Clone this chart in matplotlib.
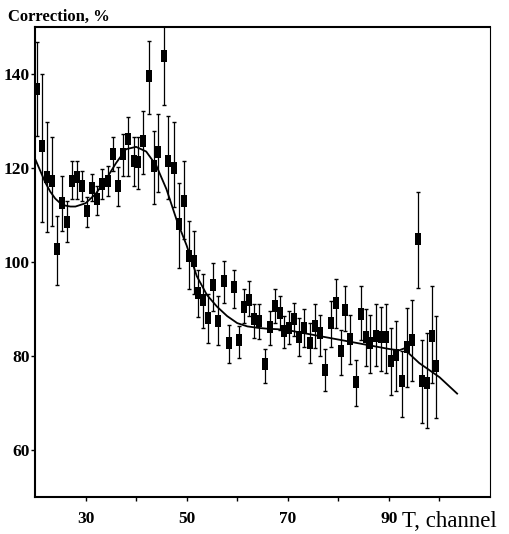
import matplotlib
matplotlib.use("Agg")
import matplotlib.pyplot as plt
from matplotlib.ticker import FixedLocator, FixedFormatter

# ---- data ----
channel = [20.3, 21.4, 22.4, 23.4, 24.4, 25.4, 26.4, 27.4, 28.3, 29.3,
           30.3, 31.3, 32.3, 33.3, 34.4, 35.5, 36.4, 37.4, 38.4, 39.5,
           40.4, 41.4, 42.6, 43.6, 44.4, 45.5, 46.4, 47.4, 48.5, 49.5,
           50.4, 51.4, 52.3, 53.3, 54.3, 55.3, 56.2, 57.4, 58.3, 59.4,
           60.4, 61.4, 62.4, 63.3, 64.3, 65.4, 66.4, 67.4, 68.4, 69.3,
           70.3, 71.3, 72.3, 73.3, 74.3, 75.4, 76.4, 77.4, 78.5, 79.5,
           80.5, 81.4, 82.4, 83.4, 84.4, 85.4, 86.3, 87.4, 88.4, 89.5,
           90.5, 91.5, 92.5, 93.5, 94.5, 95.7, 96.6, 97.6, 98.5, 99.4]
correction = [136.8, 124.6, 118.0, 117.2, 102.7, 112.6, 108.6, 117.2, 118.0, 116.2,
              110.9, 115.8, 113.3, 116.5, 117.2, 122.9, 116.2, 123.0, 126.1, 121.5,
              121.2, 125.8, 139.6, 120.5, 123.3, 143.8, 121.5, 120.1, 108.0, 113.0,
              101.3, 100.2, 93.4, 92.0, 88.1, 95.2, 87.4, 95.9, 82.8, 94.7,
              83.5, 90.5, 92.0, 87.8, 87.4, 78.2, 86.2, 90.6, 89.2, 85.3,
              86.0, 87.8, 84.0, 86.0, 82.8, 86.3, 84.9, 77.0, 87.1, 91.3,
              81.0, 89.7, 83.6, 74.4, 89.0, 84.1, 82.8, 84.3, 84.1, 84.1,
              78.9, 80.2, 74.6, 82.0, 83.5, 104.8, 74.6, 74.2, 84.3, 77.8]
err_lo = [10.0, 16.0, 11.7, 9.5, 7.5, 6.0, 4.3, 3.9, 4.7, 3.2,
          3.5, 2.8, 3.2, 3.2, 3.2, 3.5, 4.3, 4.7, 7.7, 5.3,
          5.7, 7.1, 8.1, 8.2, 8.5, 10.4, 8.2, 8.5, 9.2, 8.2,
          7.1, 7.1, 5.0, 6.0, 5.3, 5.7, 5.0, 4.6, 4.3, 4.4,
          3.9, 3.5, 3.5, 3.9, 3.8, 3.9, 3.8, 3.6, 3.6, 3.5,
          3.5, 3.5, 4.0, 4.0, 4.3, 4.6, 5.0, 4.5, 5.1, 5.3,
          5.0, 4.4, 5.4, 5.1, 5.5, 6.3, 6.4, 6.5, 7.3, 7.7,
          7.1, 7.7, 7.5, 8.5, 8.9, 10.3, 8.9, 9.5, 10.1, 11.0]
err_hi = [10.0, 15.4, 11.7, 9.4, 7.1, 5.7, 4.3, 4.3, 3.5, 3.2,
          2.9, 2.9, 2.9, 3.2, 3.2, 3.6, 4.0, 4.2, 4.7, 5.1,
          5.4, 6.4, 7.5, 7.4, 8.2, 8.0, 9.6, 9.6, 8.9, 8.5,
          7.4, 6.4, 5.0, 5.4, 5.0, 4.6, 5.3, 4.3, 3.9, 3.7,
          2.8, 3.7, 3.9, 3.2, 3.6, 3.2, 3.3, 3.6, 3.6, 3.3,
          3.5, 3.5, 4.0, 4.0, 4.3, 4.7, 3.9, 4.4, 4.5, 5.0,
          4.6, 5.2, 5.2, 4.8, 5.9, 5.8, 6.0, 6.7, 6.4, 6.9,
          7.1, 7.2, 6.4, 8.3, 8.5, 10.0, 8.9, 10.7, 10.6, 10.7]

# fitted curve
fit_x = [20, 21, 22, 23, 24, 25, 26, 27, 28, 30, 32, 34, 36, 38, 40, 42, 44,
         46, 48, 50, 52, 54, 56, 58, 60, 62, 64, 66, 68, 70, 75, 80, 85, 90,
         92, 93.5, 94, 96, 98, 100, 103.5]
fit_y = [122.0, 119.5, 117.0, 115.0, 113.5, 112.5, 112.0, 111.8, 111.8, 112.5,
         114.5, 117.5, 121.0, 124.0, 124.5, 123.5, 120.5, 115.5, 109.0, 103.5,
         97.0, 93.0, 90.5, 88.5, 87.0, 86.3, 86.0, 85.8, 85.7, 85.5, 84.5,
         83.5, 82.5, 81.5, 81.2, 81.8, 80.5, 78.5, 77.0, 75.5, 72.0]

x_ticks = [30, 40, 50, 60, 70, 80, 90, 100]
x_tick_labels = ["30", "", "50", "", "70", "", "90", ""]
y_ticks = [60, 80, 100, 120, 140]
y_tick_labels = ["60", "80", "100", "120", "140"]

SERIF = ["Liberation Serif", "DejaVu Serif"]

fig = plt.figure(figsize=(5.10, 5.34), dpi=100)
ax = fig.add_axes([35 / 510, 1 - 497 / 534, 455 / 510, 470 / 534])

ax.errorbar(channel, correction, yerr=[err_lo, err_hi], fmt="none",
            ecolor="black", elinewidth=0.9, capsize=1.2, capthick=1.0)
rect = [(-0.55, -1), (0.55, -1), (0.55, 1), (-0.55, 1), (-0.55, -1)]
ax.plot(channel, correction, linestyle="none", marker=rect, markersize=8,
        color="black", markeredgewidth=0)
ax.plot(fit_x, fit_y, color="black", lw=1.3)

ax.set_xlim(20, 110)
ax.set_ylim(50, 150)

ax.xaxis.set_major_locator(FixedLocator(x_ticks))
ax.xaxis.set_major_formatter(FixedFormatter(x_tick_labels))
ax.yaxis.set_major_locator(FixedLocator(y_ticks))
ax.yaxis.set_major_formatter(FixedFormatter(y_tick_labels))
ax.tick_params(axis="x", direction="out", length=3, width=1, pad=7,
               labelsize=12.5)
ax.tick_params(axis="y", direction="out", length=3, width=1, pad=1,
               labelsize=12.5)
for lab in ax.get_xticklabels() + ax.get_yticklabels():
    lab.set_family(SERIF)
    lab.set_fontweight("bold")

ax.spines["left"].set_linewidth(1.5)
ax.spines["bottom"].set_linewidth(1.5)
ax.spines["top"].set_linewidth(1.5)
ax.spines["right"].set_linewidth(0.8)

fig.text(8 / 510, 1 - 21 / 534, "Correction, %", family=SERIF, fontsize=12,
         fontweight="bold", ha="left", va="baseline")
fig.text(402 / 510, 1 - 527 / 534, "T, channel", family=SERIF, fontsize=16.5,
         ha="left", va="baseline")

fig.savefig("out.png", dpi=100)
